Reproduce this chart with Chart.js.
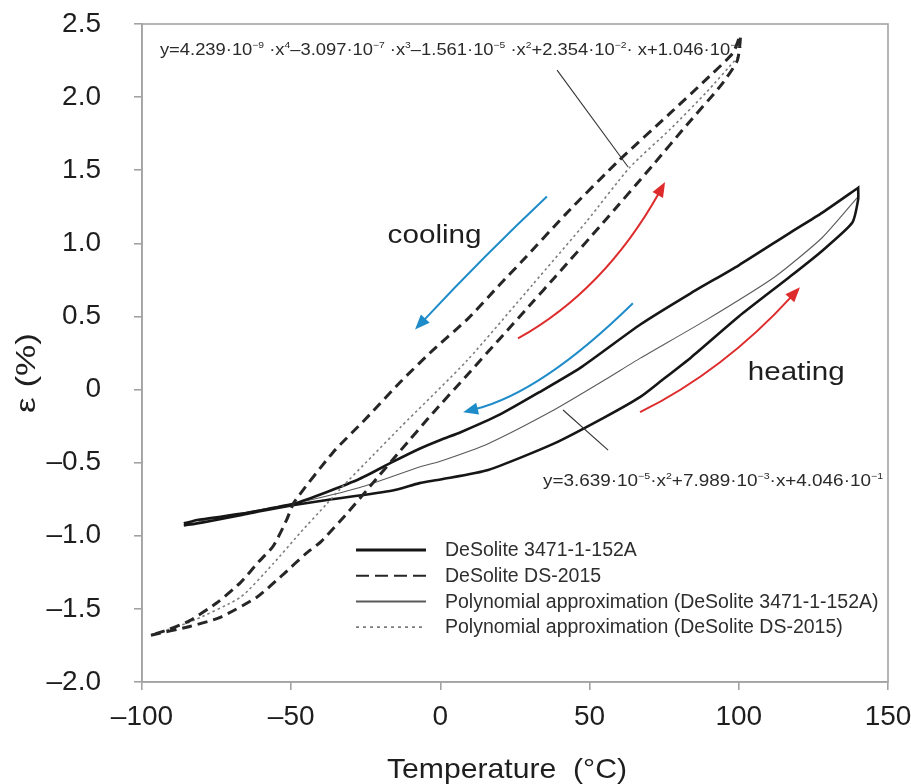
<!DOCTYPE html>
<html>
<head>
<meta charset="utf-8">
<script src="https://cdn.jsdelivr.net/npm/chart.js@4.4.1/dist/chart.umd.min.js"></script>
<style>
  html, body { margin: 0; background: #fff; }
</style>
</head>
<body>
<canvas id="chartContainer" width="911" height="784"></canvas>
<script>
"use strict";

// 1: data (temperature in °C, strain in %)
// DeSolite 3471-1-152A, heating branch then cooling branch
const heat3471T = [-86, -80, -67, -60, -49, -38, -16, -7, 0, 16, 38, 55, 67, 74, 84, 100, 117, 128, 138, 140, 140];
const heat3471E = [-0.93, -0.91, -0.86, -0.83, -0.79, -0.755, -0.69, -0.64, -0.615, -0.55, -0.37, -0.19, -0.05, 0.06, 0.22, 0.50, 0.77, 0.95, 1.14, 1.30, 1.38];
const cool3471T = [140, 128, 117, 100, 84, 67, 47, 33, 20, 7, 0, -7, -16, -27, -38, -49, -60, -67, -81, -86];
const cool3471E = [1.38, 1.21, 1.07, 0.85, 0.66, 0.445, 0.15, -0.02, -0.17, -0.29, -0.345, -0.405, -0.495, -0.61, -0.70, -0.78, -0.825, -0.85, -0.89, -0.915];

// DeSolite DS-2015, heating branch then cooling branch
const heatDST = [-97, -84, -74, -61.5, -53, -45, -40, -31, -23.5, -13.5, -2.5, 9, 20, 31, 38, 54.5, 71, 83, 94, 99.5];
const heatDSE = [-1.68, -1.62, -1.56, -1.42, -1.27, -1.12, -1.04, -0.84, -0.66, -0.42, -0.16, 0.10, 0.35, 0.60, 0.76, 1.14, 1.53, 1.82, 2.08, 2.25];
const coolDST = [100.5, 98, 89, 77, 60, 42, 27, 20, 9, -2.5, -13.5, -25, -36, -49, -51.5, -56, -61, -67, -75, -84, -91, -97];
const coolDSE = [2.42, 2.30, 2.12, 1.89, 1.57, 1.20, 0.87, 0.72, 0.48, 0.27, 0.05, -0.20, -0.43, -0.77, -0.89, -1.07, -1.18, -1.32, -1.46, -1.58, -1.64, -1.68];

// polynomial approximations
const poly3471T = [-81, -60, -49, -27, -7, 0, 16, 38, 55, 67, 89, 112, 128, 140];
const poly3471E = [-0.90, -0.82, -0.78, -0.67, -0.53, -0.49, -0.37, -0.14, 0.065, 0.215, 0.475, 0.77, 1.04, 1.32];
const polyDST = [-97, -84, -67, -56, -47, -38, -33.6, -22.6, -13.5, 9, 31, 49, 63.5, 77, 89, 99.5];
const polyDSE = [-1.68, -1.59, -1.42, -1.19, -0.98, -0.78, -0.68, -0.45, -0.26, 0.20, 0.72, 1.15, 1.52, 1.78, 2.03, 2.27];

// axis ticks
const xTickValues = [-100, -50, 0, 50, 100, 150];
const xTickLabels = ['\u2013100', '\u201350', '0', '50', '100', '150'];
const yTickValues = [-2, -1.5, -1, -0.5, 0, 0.5, 1, 1.5, 2, 2.5];
const yTickLabels = ['\u20132.0', '\u20131.5', '\u20131.0', '\u20130.5', '0', '0.5', '1.0', '1.5', '2.0', '2.5'];

const seriesNames = [
  'DeSolite 3471-1-152A',
  'DeSolite DS-2015',
  'Polynomial approximation (DeSolite 3471-1-152A)',
  'Polynomial approximation (DeSolite DS-2015)'
];

const FONT = "'Liberation Sans', Arial, sans-serif";
const BLUE = '#1f8cca';
const RED = '#de2c2c';
const AXIS_GREY = '#a3a3a3';

// 2: prepare data for chart
function toPoints(xs, ys) {
  return xs.map((x, i) => ({ x: x, y: ys[i] }));
}

// line styles for the four series, shared by plot and legend
const styles = [
  { color: '#161616', width: 2.6, dash: [], legendDash: [], legendWidth: 3 },
  { color: '#262626', width: 3, dash: [10, 6], legendDash: [13, 6], legendWidth: 2 },
  { color: '#5a5a5a', width: 1.1, dash: [], legendDash: [], legendWidth: 2 },
  { color: '#7d7d7d', width: 1.6, dash: [2.5, 3], legendDash: [3, 4], legendWidth: 1.6 }
];

// 3: annotations, in data units
const arrows = [
  { color: BLUE, from: [35.7, 1.32], ctrl: [14.9, 0.92], to: [-8.5, 0.41] },
  { color: BLUE, from: [64.5, 0.59], ctrl: [34.0, -0.02], to: [7.6, -0.155] },
  { color: RED, from: [26.0, 0.35], ctrl: [55.0, 0.68], to: [75.3, 1.42] },
  { color: RED, from: [66.9, -0.155], ctrl: [95.0, 0.13], to: [120.5, 0.70] }
];
const leaders = [
  { from: [39.1, 2.185], to: [62.9, 1.522] },
  { from: [41.1, -0.14], to: [56.2, -0.414] }
];
const eqDS = [['y=4.239\u00b710', 0], ['\u22129', 1], [' \u00b7x', 0], ['4', 1], ['\u20133.097\u00b710', 0], ['\u22127', 1],
  [' \u00b7x', 0], ['3', 1], ['\u20131.561\u00b710', 0], ['\u22125', 1], [' \u00b7x', 0], ['2', 1],
  ['+2.354\u00b710', 0], ['\u22122', 1], ['\u00b7 x+1.046\u00b710', 0], ['\u22121', 1]];
const eq3471 = [['y=3.639\u00b710', 0], ['\u22125', 1], ['\u00b7x', 0], ['2', 1], ['+7.989\u00b710', 0], ['\u22123', 1],
  ['\u00b7x+4.046\u00b710', 0], ['\u22121', 1]];

// draws text parts squeezed or stretched to a given width
function fitText(ctx, parts, x, y, width, size, supSize) {
  ctx.save();
  ctx.textBaseline = 'alphabetic';
  ctx.textAlign = 'left';
  let total = 0;
  for (const [t, sup] of parts) {
    ctx.font = (sup ? supSize : size) + 'px ' + FONT;
    total += ctx.measureText(t).width;
  }
  ctx.translate(x, y);
  ctx.scale(width / total, 1);
  let cx = 0;
  for (const [t, sup] of parts) {
    ctx.font = (sup ? supSize : size) + 'px ' + FONT;
    ctx.fillText(t, cx, sup ? -size * 0.42 : 0);
    cx += ctx.measureText(t).width;
  }
  ctx.restore();
}

const decorations = {
  id: 'decorations',
  afterDraw(chart) {
    const ctx = chart.ctx;
    const xs = chart.scales.x;
    const ys = chart.scales.y;
    const px = (p) => [xs.getPixelForValue(p[0]), ys.getPixelForValue(p[1])];
    const area = chart.chartArea;

    // frame round the plot
    ctx.save();
    ctx.strokeStyle = AXIS_GREY;
    ctx.lineWidth = 1.6;
    ctx.strokeRect(area.left, area.top, area.right - area.left, area.bottom - area.top);
    ctx.restore();

    // direction arrows
    for (const a of arrows) {
      const p0 = px(a.from), c = px(a.ctrl), p2 = px(a.to);
      const ang = Math.atan2(p2[1] - c[1], p2[0] - c[0]);
      const len = 15, half = 6;
      const bx = p2[0] - Math.cos(ang) * len * 0.8, by = p2[1] - Math.sin(ang) * len * 0.8;
      ctx.save();
      ctx.strokeStyle = a.color;
      ctx.fillStyle = a.color;
      ctx.lineWidth = 2;
      ctx.beginPath();
      ctx.moveTo(p0[0], p0[1]);
      ctx.quadraticCurveTo(c[0], c[1], bx, by);
      ctx.stroke();
      ctx.beginPath();
      ctx.moveTo(p2[0], p2[1]);
      ctx.lineTo(p2[0] - Math.cos(ang) * len + Math.sin(ang) * half, p2[1] - Math.sin(ang) * len - Math.cos(ang) * half);
      ctx.lineTo(p2[0] - Math.cos(ang) * len - Math.sin(ang) * half, p2[1] - Math.sin(ang) * len + Math.cos(ang) * half);
      ctx.closePath();
      ctx.fill();
      ctx.restore();
    }

    // leader lines from the equations
    ctx.save();
    ctx.strokeStyle = '#333';
    ctx.lineWidth = 1.1;
    for (const l of leaders) {
      const a = px(l.from), b = px(l.to);
      ctx.beginPath();
      ctx.moveTo(a[0], a[1]);
      ctx.lineTo(b[0], b[1]);
      ctx.stroke();
    }
    ctx.restore();

    // equations and labels
    ctx.save();
    ctx.fillStyle = '#2a2a2a';
    let p = px([-94, 2.29]);
    fitText(ctx, eqDS, p[0], p[1], 582, 16, 9);
    p = px([34.4, -0.66]);
    fitText(ctx, eq3471, p[0], p[1], 340, 16, 9);
    ctx.fillStyle = '#1e1e1e';
    p = px([-17.7, 1.0]);
    fitText(ctx, [['cooling', 0]], p[0], p[1], 94, 26, 0);
    p = px([103, 0.065]);
    fitText(ctx, [['heating', 0]], p[0], p[1], 97, 26, 0);
    ctx.restore();

    // legend
    ctx.save();
    const lx = area.left + 214, ly = area.top + 526;
    for (let i = 0; i < seriesNames.length; i++) {
      const s = styles[i];
      const y = ly + i * 25.7;
      ctx.strokeStyle = s.color;
      ctx.lineWidth = s.legendWidth;
      ctx.setLineDash(s.legendDash);
      ctx.beginPath();
      ctx.moveTo(lx, y);
      ctx.lineTo(lx + 70, y);
      ctx.stroke();
      ctx.setLineDash([]);
      ctx.fillStyle = '#2e2e2e';
      ctx.font = '19.5px ' + FONT;
      ctx.textBaseline = 'middle';
      ctx.fillText(seriesNames[i], lx + 89, y + 1);
    }
    ctx.restore();

    // axis titles
    ctx.save();
    ctx.fillStyle = '#1e1e1e';
    fitText(ctx, [['Temperature  (\u00b0C)', 0]], 387, 778, 240, 28, 0);
    ctx.translate(25, 373);
    ctx.rotate(-Math.PI / 2);
    fitText(ctx, [['\u03b5 (%)', 0]], -40, 10, 80, 28, 0);
    ctx.restore();
  }
};

function lineSet(label, points, s) {
  return {
    label: label,
    data: points,
    showLine: true,
    borderColor: s.color,
    borderWidth: s.width,
    borderDash: s.dash,
    pointRadius: 0,
    tension: 0.2,
    fill: false
  };
}

// 4: create and append the chart
function appendChart() {
  const chartContainer = document.getElementById('chartContainer');
  const loop3471 = toPoints(heat3471T, heat3471E).concat(toPoints(cool3471T, cool3471E));
  const loopDS = toPoints(heatDST, heatDSE).concat(toPoints(coolDST, coolDSE));

  new Chart(chartContainer, {
    type: 'scatter',
    data: {
      datasets: [
        lineSet(seriesNames[1], loopDS, styles[1]),
        lineSet(seriesNames[3], toPoints(polyDST, polyDSE), styles[3]),
        lineSet(seriesNames[0], loop3471, styles[0]),
        lineSet(seriesNames[2], toPoints(poly3471T, poly3471E), styles[2])
      ]
    },
    options: {
      responsive: false,
      animation: false,
      layout: { padding: { left: 0, top: 24, right: 23, bottom: 0 } },
      plugins: {
        legend: { display: false },
        tooltip: { enabled: false }
      },
      scales: {
        x: {
          type: 'linear',
          min: -100,
          max: 150,
          afterBuildTicks: (scale) => { scale.ticks = xTickValues.map(v => ({ value: v })); },
          afterFit: (scale) => {
            scale.height = 102;
            scale.paddingLeft = 0;
            scale.paddingRight = 0;
          },
          ticks: {
            autoSkip: false,
            maxRotation: 0,
            padding: 10,
            color: '#1e1e1e',
            font: { family: FONT, size: 28 },
            callback: (v, i) => xTickLabels[i]
          },
          grid: { drawOnChartArea: false, drawTicks: true, tickLength: 8, color: AXIS_GREY, lineWidth: 1.6 },
          border: { display: true, color: AXIS_GREY, width: 1.6 }
        },
        y: {
          type: 'linear',
          min: -2,
          max: 2.5,
          afterBuildTicks: (scale) => { scale.ticks = yTickValues.map(v => ({ value: v })); },
          afterFit: (scale) => {
            scale.width = 142;
            scale.paddingTop = 0;
            scale.paddingBottom = 0;
          },
          ticks: {
            autoSkip: false,
            padding: 33,
            color: '#1e1e1e',
            font: { family: FONT, size: 28 },
            callback: (v, i) => yTickLabels[i]
          },
          grid: { drawOnChartArea: false, drawTicks: true, tickLength: 8, color: AXIS_GREY, lineWidth: 1.6 },
          border: { display: true, color: AXIS_GREY, width: 1.6 }
        }
      }
    },
    plugins: [decorations]
  });
}

appendChart();
</script>
</body>
</html>
